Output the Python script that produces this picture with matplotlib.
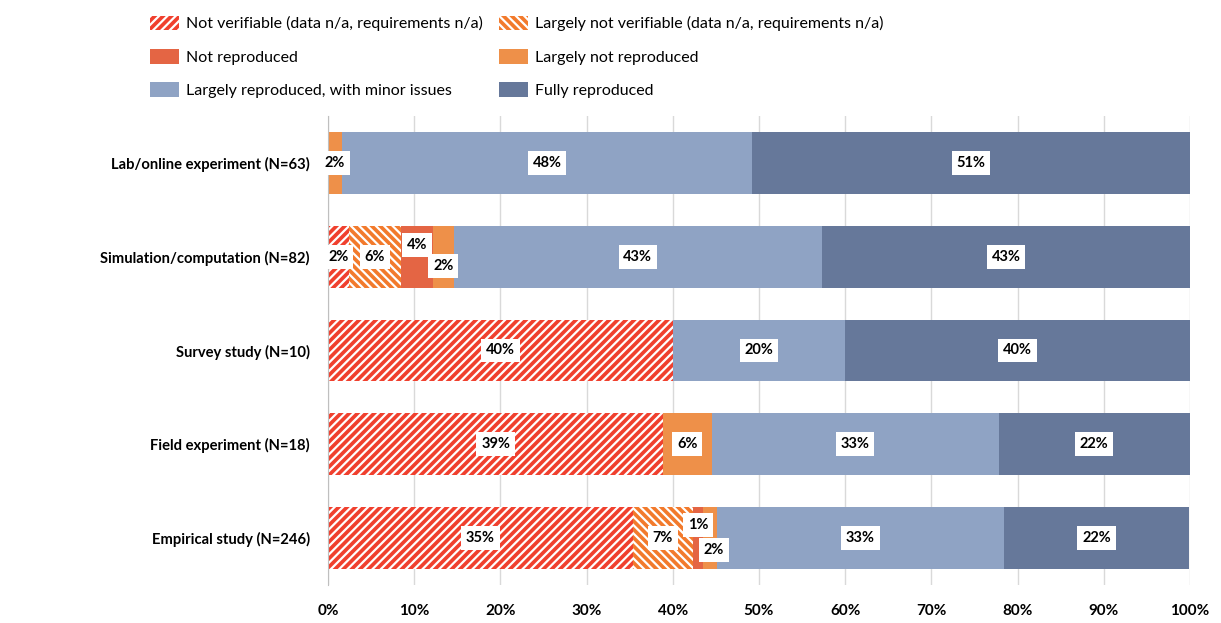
import numpy as np
import matplotlib.pyplot as plt

plt.rcParams['font.family'] = ['Lato', 'DejaVu Sans']
plt.rcParams['hatch.linewidth'] = 1.6

# 数据（百分比）
categories = ['Lab/online experiment (N=63)', 'Simulation/computation (N=82)', 'Survey study (N=10)',
              'Field experiment (N=18)', 'Empirical study (N=246)']
series_names = ['Not verifiable (data n/a, requirements n/a)',
                'Largely not verifiable (data n/a, requirements n/a)',
                'Not reproduced', 'Largely not reproduced',
                'Largely reproduced, with minor issues', 'Fully reproduced']
not_verifiable = [0.0, 2.4, 40.0, 38.9, 35.4]
largely_not_verifiable = [0.0, 6.1, 0.0, 0.0, 6.9]
not_reproduced = [0.0, 3.7, 0.0, 0.0, 1.2]
largely_not_reproduced = [1.6, 2.4, 0.0, 5.6, 1.6]
largely_reproduced = [47.6, 42.7, 20.0, 33.3, 33.3]
fully_reproduced = [50.8, 42.7, 40.0, 22.2, 21.5]
series = [not_verifiable, largely_not_verifiable, not_reproduced,
          largely_not_reproduced, largely_reproduced, fully_reproduced]

colors = ['#f0402e', '#f27a2c', '#e46544', '#ee9049', '#8fa3c4', '#66789a']
hatches = ['////', '\\\\\\\\', None, None, None, None]

# 标签微调（像素偏移），避免小段标签重叠
label_offsets = {(1, 2): (0, 12), (1, 3): (0, -9), (4, 2): (0, 13), (4, 3): (4, -12)}

fig = plt.figure(figsize=(12.21, 6.23), dpi=100)
ax = fig.add_axes([0.2686, 0.061, 0.706, 0.7528])

y = np.arange(len(categories))
left = np.zeros(len(categories))
handles = []
for k, vals in enumerate(series):
    vals = np.array(vals)
    if hatches[k]:
        b = ax.barh(y, vals, left=left, height=0.66, color=colors[k], edgecolor='white',
                    linewidth=0, hatch=hatches[k], label=series_names[k])
    else:
        b = ax.barh(y, vals, left=left, height=0.66, color=colors[k], linewidth=0,
                    label=series_names[k])
    handles.append(b)
    for i, v in enumerate(vals):
        if v <= 0:
            continue
        dx, dy = label_offsets.get((i, k), (0, 0))
        ax.annotate('%d%%' % round(v), (left[i] + v / 2, y[i]), xytext=(dx, dy),
                    textcoords='offset pixels', ha='center', va='center',
                    fontsize=10.5, fontweight='bold', color='black',
                    bbox=dict(facecolor='white', edgecolor='none', pad=3.5))
    left += vals

ax.set_xlim(0, 100)
ax.set_ylim(4.5, -0.5)
ax.set_xticks(np.arange(0, 101, 10))
ax.set_xticklabels(['%d%%' % t for t in range(0, 101, 10)], fontsize=11, fontweight='bold')
ax.set_yticks(y)
ax.set_yticklabels(categories, fontsize=10.6, fontweight='bold')
ax.tick_params(axis='x', length=0, pad=14)
ax.tick_params(axis='y', length=0, pad=13)
ax.grid(axis='x', color='#d9d9d9', linewidth=1)
ax.set_axisbelow(True)
for s in ['top', 'right', 'bottom']:
    ax.spines[s].set_visible(False)
ax.spines['left'].set_color('#bfbfbf')

order = [0, 2, 4, 1, 3, 5]
fig.legend([handles[i] for i in order], [series_names[i] for i in order], ncol=2,
           loc='upper left', bbox_to_anchor=(0.111, 0.998), frameon=False, fontsize=11.5,
           handlelength=1.8, handleheight=1.05, handletextpad=0.45, columnspacing=1.05,
           labelspacing=1.1)

plt.savefig('out.png', dpi=100)
